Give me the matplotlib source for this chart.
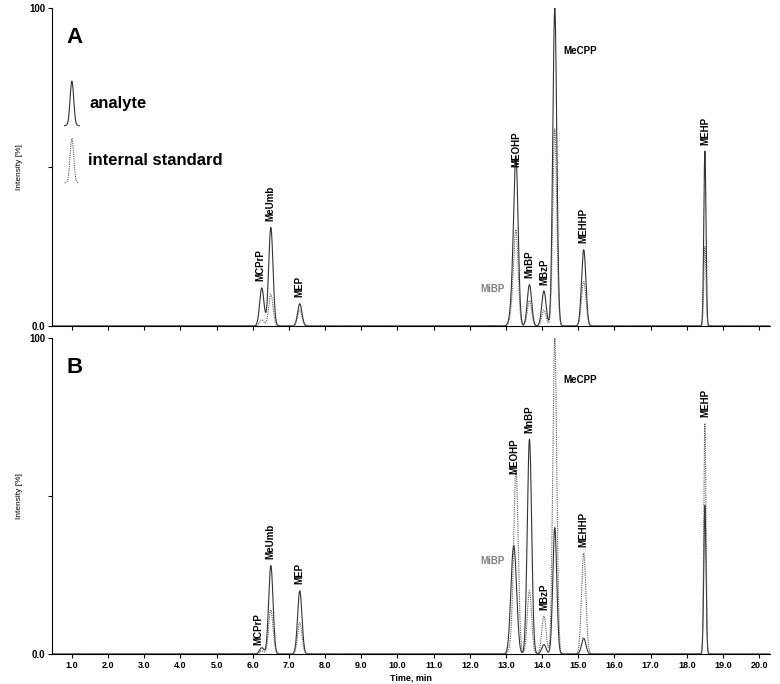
import numpy as np
import matplotlib
matplotlib.use("Agg")
import matplotlib.pyplot as plt

plt.rcParams["font.family"] = "Liberation Sans"

compounds = ["MCPrP", "MeUmb", "MEP", "MiBP", "MEOHP", "MnBP", "MBzP", "MeCPP", "MEHHP", "MEHP"]
rt = [6.25, 6.5, 7.3, 13.2, 13.28, 13.65, 14.05, 14.35, 15.15, 18.5]
widths = [0.06, 0.06, 0.06, 0.07, 0.06, 0.06, 0.06, 0.055, 0.06, 0.03]
a_analyte = [12, 31, 7, 10, 48, 13, 11, 100, 24, 55]
a_is = [2, 10, 5, 6, 27, 8, 5, 62, 14, 25]
b_analyte = [2, 28, 20, 30, 9, 68, 3, 40, 5, 47]
b_is = [1, 14, 10, 6, 55, 20, 12, 100, 32, 73]
xticks = [1.0, 2.0, 3.0, 4.0, 5.0, 6.0, 7.0, 8.0, 9.0, 10.0, 11.0, 12.0, 13.0, 14.0, 15.0, 16.0, 17.0, 18.0, 19.0, 20.0]

labels_a = [("MCPrP", 6.22, 14, 90, "k"), ("MeUmb", 6.5, 33, 90, "k"), ("MEP", 7.3, 9, 90, "k"),
            ("MiBP", 12.3, 10, 0, "gray"), ("MEOHP", 13.28, 50, 90, "k"), ("MnBP", 13.65, 15, 90, "k"),
            ("MBzP", 14.05, 13, 90, "k"), ("MeCPP", 14.6, 85, 0, "k"), ("MEHHP", 15.15, 26, 90, "k"),
            ("MEHP", 18.5, 57, 90, "k")]
labels_b = [("MCPrP", 6.15, 3, 90, "k"), ("MeUmb", 6.5, 30, 90, "k"), ("MEP", 7.28, 22, 90, "k"),
            ("MiBP", 12.3, 28, 0, "gray"), ("MEOHP", 13.22, 57, 90, "k"), ("MnBP", 13.65, 70, 90, "k"),
            ("MBzP", 14.05, 14, 90, "k"), ("MeCPP", 14.6, 85, 0, "k"), ("MEHHP", 15.15, 34, 90, "k"),
            ("MEHP", 18.5, 75, 90, "k")]

x = np.linspace(0.45, 20.3, 6000)

def trace(heights):
    y = np.zeros_like(x)
    for c, h, w in zip(rt, heights, widths):
        y += h * np.exp(-0.5 * ((x - c) / w) ** 2)
    return y

fig = plt.figure(figsize=(7.8, 6.84), dpi=100)
ax1 = fig.add_axes([52/780, 1-326/684, 718/780, 318/684])
ax2 = fig.add_axes([52/780, 1-654/684, 718/780, 316/684])

for ax, an, ist, labs, letter in [(ax1, a_analyte, a_is, labels_a, "A"), (ax2, b_analyte, b_is, labels_b, "B")]:
    ax.plot(x, trace(an), color="#333333", lw=0.8)
    ax.plot(x, trace(ist), color="#555555", lw=0.8, ls=(0, (1, 1)))
    ax.set_xlim(0.45, 20.3)
    ax.set_ylim(0, 100)
    ax.set_yticks([0, 50, 100])
    ax.set_yticklabels(["0.0", "", "100"], fontsize=7, fontweight="bold")
    ax.set_xticks(xticks)
    ax.spines["top"].set_visible(False)
    ax.spines["right"].set_visible(False)
    ax.tick_params(length=3, width=0.8, pad=2)
    ax.set_ylabel("Intensity [%]", fontsize=6)
    ax.text(0.02, 0.94, letter, transform=ax.transAxes, fontsize=16, fontweight="bold", va="top")
    for name, lx, ly, rot, col in labs:
        ax.text(lx, ly, name, rotation=rot, ha="center" if rot else "left", va="bottom",
                fontsize=7, fontweight="bold", color=col)

ax1.set_xticklabels([])
ax2.set_xticklabels([f"{t:.1f}" for t in xticks], fontsize=6.5, fontweight="bold")
fig.text(411/780, 1-678/684, "Time, min", fontsize=6.5, fontweight="bold", ha="center", va="center")

# legend glyphs in panel A
lx = np.linspace(0.8, 1.2, 100)
g = np.exp(-0.5 * ((lx - 1.0) / 0.05) ** 2)
ax1.plot(lx, 63 + 14 * g, color="#333333", lw=0.8)
ax1.plot(lx, 45 + 14 * g, color="#555555", lw=0.8, ls=(0, (1, 1)))
ax1.text(1.5, 70, "analyte", fontsize=12, fontweight="bold", va="center")
ax1.text(1.45, 52, "internal standard", fontsize=12, fontweight="bold", va="center")

fig.savefig("out.png", dpi=100)
